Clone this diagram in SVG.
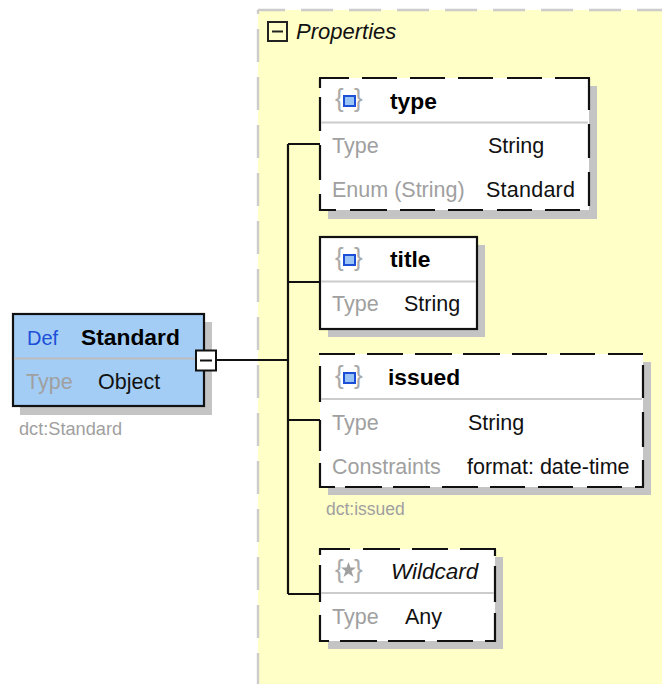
<svg xmlns="http://www.w3.org/2000/svg" width="662" height="684" viewBox="0 0 662 684">
<style>
text{font-family:"Liberation Sans",Arial,sans-serif;font-size:21.5px;fill:#111}
.b{font-weight:bold;font-size:22.8px;fill:#000}
.g{fill:#a0a0a0}
.s{font-size:17.5px;fill:#a0a0a0}
.sh{fill:#c4c4c4}
.w{fill:#fff}
.bx{fill:#fff;stroke:#111;stroke-width:2.2}
.e{fill:none;stroke:#111;stroke-width:2.2}
.div{stroke:#ccc;stroke-width:2}
.ln{fill:none;stroke:#111;stroke-width:2.2}
.br{font-size:26px;fill:#aaa}
.ic{fill:#99c4f5;stroke:#1c4fd8;stroke-width:2}
.pb{fill:none;stroke:#ccc;stroke-width:2.4}
</style>
<rect width="662" height="684" fill="#fff"/>
<g id="properties">
<path d="M258 684V10H662V684Z" fill="#ffffc8"/>
<path class="pb" d="M258 10H662" stroke-dasharray="32 16" stroke-dashoffset="5"/>
<path class="pb" d="M258 10V684" stroke-dasharray="33 15" stroke-dashoffset="29"/>
<rect x="268" y="22" width="19" height="19" fill="#ffffc8" stroke="#222" stroke-width="2"/>
<path d="M272 31.500H283" stroke="#222" stroke-width="2"/>
<text x="296" y="39" font-style="italic" style="font-size:22px">Properties</text>
</g>
<g id="connectors">
<path class="ln" d="M216 360H288M288 144V594M288 144H320M288 282H320M288 420H320M288 594H320"/>
</g>
<g id="standard">
<rect class="sh" x="20" y="322" width="192" height="93"/>
<rect x="13" y="314" width="191" height="92" fill="#a3cdf5" stroke="#111" stroke-width="2.200"/>
<path d="M14 358.500H203" stroke="#bdbdbd" stroke-width="2"/>
<text x="27" y="345" style="fill:#1c4fd8;font-size:20px">Def</text>
<text class="b" x="81" y="345">Standard</text>
<text class="g" x="26" y="389">Type</text>
<text x="98" y="389">Object</text>
<rect x="196" y="350.500" width="20" height="20" fill="#fff" stroke="#111" stroke-width="2"/>
<path d="M200 360.500H212" stroke="#111" stroke-width="2"/>
<text class="s" x="19" y="435" style="font-size:18.2px">dct:Standard</text>
</g>
<g id="type">
<rect class="sh" x="328" y="86" width="269" height="133"/>
<rect class="w" x="320" y="78" width="269" height="132"/>
<path class="e" d="M319 78H349M362 78H397M410 78H445M458 78H493M507 78H542M555 78H590M589 78V110M589 124V158M589 172V206M320 210H336M350 210H387M400 210H435M448 210H483M497 210H532M545 210H580M320 78V88M320 97V131M320 145V180M320 194V211"/>
<path class="div" d="M321 122.500H588"/>
<text class="br" x="335" y="107">{</text><text class="br" x="354" y="107">}</text>
<rect class="ic" x="344" y="96" width="11" height="10"/>
<text class="b" x="390" y="109">type</text>
<text class="g" x="332" y="153">Type</text>
<text x="488" y="153">String</text>
<text class="g" x="332" y="197">Enum (String)</text>
<text x="486" y="197" textLength="89">Standard</text>
</g>
<g id="title">
<rect class="sh" x="328" y="245" width="157" height="92"/>
<rect class="bx" x="320" y="237" width="157" height="92"/>
<path class="div" d="M321 281.500H476"/>
<text class="br" x="335" y="266">{</text><text class="br" x="354" y="266">}</text>
<rect class="ic" x="344" y="255" width="11" height="10"/>
<text class="b" x="390" y="267">title</text>
<text class="g" x="332" y="311">Type</text>
<text x="404" y="311">String</text>
</g>
<g id="issued">
<rect class="sh" x="328" y="362" width="323" height="133"/>
<rect class="w" x="320" y="354" width="323" height="133"/>
<path class="e" d="M319 354H355M367 354H403M415 354H452M463 354H500M512 354H547M560 354H595M608 354H643M643 365V398M643 412V447M643 460V487M320 487H335M345 487H382M393 487H430M442 487H478M490 487H525M538 487H573M587 487H622M635 487H644M320 366V402M320 420V451M320 463V488"/>
<path class="div" d="M321 399H642"/>
<text class="br" x="335" y="384">{</text><text class="br" x="354" y="384">}</text>
<rect class="ic" x="344" y="373" width="11" height="10"/>
<text class="b" x="388" y="385">issued</text>
<text class="g" x="332" y="430">Type</text>
<text x="468" y="430">String</text>
<text class="g" x="332" y="474">Constraints</text>
<text x="467" y="474">format: date-time</text>
<text class="s" x="326" y="515">dct:issued</text>
</g>
<g id="wildcard">
<rect class="sh" x="328" y="557" width="175" height="92"/>
<rect class="w" x="320" y="549" width="175" height="92"/>
<path class="e" d="M319 549H350M363 549H400M412 549H448M460 549H496M495 549V556M495 566V602M495 613V642M319 641H329M340 641H377M388 641H425M437 641H473M485 641H496M320 549V555M320 565V602M320 615V642"/>
<path class="div" d="M321 593H494"/>
<text class="br" x="335" y="578">{</text><text class="br" x="354" y="578">}</text>
<polygon points="348.500,562 350.500,567.500 356,567.500 351.500,571 353.500,577 348.500,573.500 343.500,577 345.500,571 341,567.500 346.500,567.500" fill="#a0a0a0"/>
<text x="391" y="579" font-style="italic" style="font-size:22.500px">Wildcard</text>
<text class="g" x="332" y="624">Type</text>
<text x="405" y="624">Any</text>
</g>
</svg>
